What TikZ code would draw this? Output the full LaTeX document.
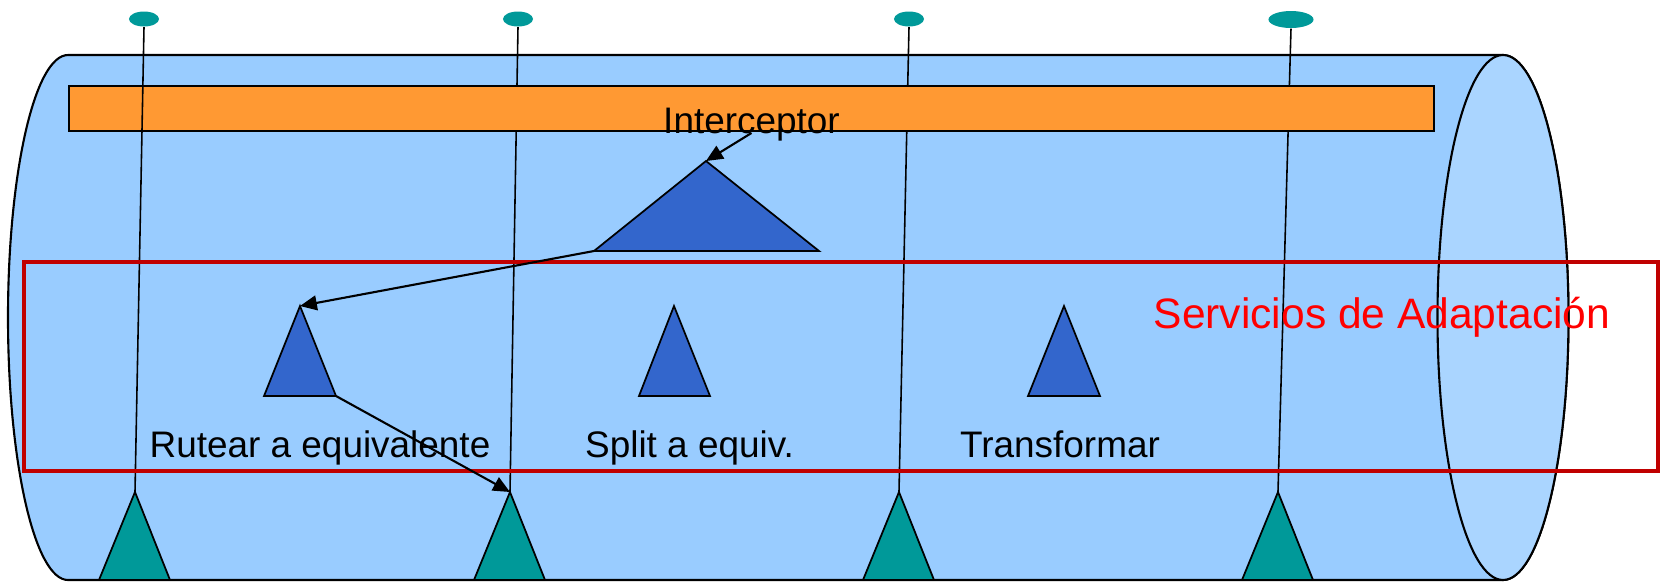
\documentclass[tikz,border=0pt]{standalone}
\usepackage{fontspec}
\setmainfont{Liberation Sans}
\definecolor{tube}{HTML}{99CCFF}
\definecolor{tubeend}{HTML}{AAD5FF}
\definecolor{barfill}{HTML}{FF9933}
\definecolor{svcblue}{HTML}{3366CC}
\definecolor{portteal}{HTML}{009999}
\definecolor{boxred}{HTML}{C00000}
\usetikzlibrary{arrows.meta, shapes.geometric}

\begin{document}
\begin{tikzpicture}[
            x=0.01cm, y=0.01cm,
            body/.style={draw, line width=0.6pt, fill=tube},
            endcap/.style={draw, line width=0.6pt, fill=tubeend},
            bar/.style={draw, line width=0.7pt, fill=barfill},
            pinhead/.style={ellipse, fill=portteal, inner sep=0pt,
                        minimum width=0.3cm, minimum height=0.15cm},
            pinline/.style={line width=0.45pt},
            port/.style={draw, line width=0.5pt, fill=portteal},
            svc/.style={draw, line width=0.5pt, fill=svcblue},
            adaptbox/.style={draw=boxred, line width=1.1pt},
            lbl/.style={inner sep=0pt, anchor=base, font=\fontsize{10.5}{12}\selectfont},
            arr/.style={-{Triangle[length=4.8pt, width=4.2pt]}, line width=0.6pt}
          ]
          \useasboundingbox (0,0) rectangle (1665,-581);
          \draw[body] (1503,-55) -- (68,-55)
            arc[start angle=90, end angle=270, x radius=60, y radius=262.5]
            -- (1503,-580)
            arc[start angle=-90, end angle=90, x radius=65.5, y radius=262.5] -- cycle;
          \draw[endcap] (1503,-317.5) ellipse[x radius=65.5, y radius=262.5];

          \node[pinhead] (pin1) at (144,-19) {};
          \node[pinhead] (pin2) at (518,-19) {};
          \node[pinhead] (pin3) at (909,-19) {};
          \node[pinhead, minimum width=0.45cm, minimum height=0.17cm] (pin4) at (1291,-19.5) {};
          \coordinate (p1) at (135,-492);
          \coordinate (p2) at (510,-492);
          \coordinate (p3) at (899,-492);
          \coordinate (p4) at (1278,-492);
          \draw[pinline] (pin2.south) -- (p2); \draw[pinline] (pin3.south) -- (p3);
          \draw[pinline] (pin4.south) -- (p4);

          \draw[bar] (69,-86) rectangle (1434,-131);
          \draw[pinline] (pin1.south) -- (p1);

          \draw[port] (p1) -- ++(-36,-88) -- ++(71,0) -- cycle;
          \draw[port] (p2) -- ++(-36,-88) -- ++(71,0) -- cycle;
          \draw[port] (p3) -- ++(-36,-88) -- ++(71,0) -- cycle;
          \draw[port] (p4) -- ++(-36,-88) -- ++(71,0) -- cycle;

          \coordinate (hub) at (706,-161);
          \coordinate (hubl) at (594,-251);
          \draw[svc] (hub) -- (hubl) -- (819,-251) -- cycle;
          \coordinate (s1) at (300,-306);
          \coordinate (s1r) at (336,-396);
          \draw[svc] (s1) -- (264,-396) -- (s1r) -- cycle;
          \coordinate (s2) at (674,-306);
          \draw[svc] (s2) -- (639,-396) -- (710,-396) -- cycle;
          \coordinate (s3) at (1064,-306);
          \draw[svc] (s3) -- (1028,-396) -- (1100,-396) -- cycle;

          \draw[adaptbox] (24,-262) rectangle (1658,-471);

          \node[lbl] (intc) at (751.5,-133) {Interceptor};
          \node[lbl] (route) at (320,-457) {Rutear a equivalente};
          \node[lbl] (split) at (689.5,-457) {Split a equiv.};
          \node[lbl] (xform) at (1060,-457) {Transformar};
          \node[lbl, text=red, font=\fontsize{12.1}{14}\selectfont] (svcname) at (1382,-328) {Servicios de Adaptación};

          \draw[arr] (intc.base) -- (hub); \draw[arr] (hubl) -- (s1);
          \draw[arr] (s1r) -- (p2);
        \end{tikzpicture}
\end{document}
